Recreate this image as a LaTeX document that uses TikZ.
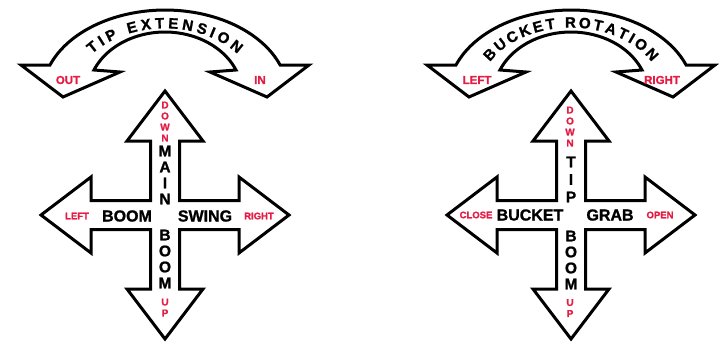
\documentclass[tikz,border=0pt]{standalone}
\usepackage{fontspec}
\setmainfont{Liberation Sans}[BoldFeatures={FakeBold=1.2}]
\definecolor{LabelRed}{RGB}{228,28,68}
\usetikzlibrary{positioning,decorations.text}
\tikzset{myoutline/.style={draw=black,fill=white,line width=3pt,line join=miter}}
\tikzset{mywords/.style={inner sep=0pt,font=\bfseries\fontsize{16}{16}\selectfont}}
\tikzset{mystack/.style={align=center,inner sep=0pt,font=\bfseries\fontsize{15.5}{16}\selectfont}}
\tikzset{myredstack/.style={align=center,inner sep=0pt,text=LabelRed,font=\bfseries\fontsize{10}{11}\selectfont}}
\tikzset{myredlabel/.style={inner sep=0pt,text=LabelRed,font=\bfseries\fontsize{9.5}{9.5}\selectfont}}
\tikzset{myarclabel/.style={myredlabel,font=\bfseries\fontsize{11.5}{11.5}\selectfont}}
\tikzset{myarctext/.style={decorate,decoration={text along path,text align=fit to path,
    text format delimiters={|}{|},text={|\bfseries\fontsize{15}{15}\selectfont|#1}}}}
\tikzset{mycross/.pic={
    \draw[myoutline] (0,-124) -- (38,-74) -- (14.5,-74) -- (14.5,-14.5) -- (74,-14.5) -- (74,-38)
      -- (124,0) -- (74,38) -- (74,14.5) -- (14.5,14.5) -- (14.5,74) -- (38,74)
      -- (0,124) -- (-38,74) -- (-14.5,74) -- (-14.5,14.5) -- (-74,14.5) -- (-74,38)
      -- (-124,0) -- (-74,-38) -- (-74,-14.5) -- (-14.5,-14.5) -- (-14.5,-74) -- (-38,-74) -- cycle;
}}
\tikzset{myarc/.pic={
    \draw[myoutline] (-115,65) arc[start angle=200.7,end angle=339.3,x radius=123,y radius=85]
      -- (144,65) -- (102,97) -- (45,72) -- (71,70)
      arc[start angle=336.6,end angle=203.4,x radius=77.4,y radius=63]
      -- (-45,72) -- (-102,97) -- (-144,65) -- cycle;
}}

\begin{document}
\begin{tikzpicture}[x=1pt,y=-1pt]
    \useasboundingbox (0,0) rectangle (719,348);
    % left controls
    \pic (tipArc) at (165,0) {myarc};
    \path[myarctext={TIP EXTENSION}] (92,54) arc[start angle=218.5,end angle=321.5,x radius=93,y radius=68];
    \node[myarclabel] (out) at (68,80) {OUT};
    \node[myarclabel] (in) at (260,80) {IN};
    \pic (mainCross) at (165,215) {mycross};
    \node[myredstack] (mainDown) at (165,121.5) {D\\O\\W\\N};
    \node[mystack] (main) at (165,175) {M\\A\\I\\N};
    \node[mystack] (mainBoom) at (165,259) {B\\O\\O\\M};
    \node[myredstack] (mainUp) at (165,307.5) {U\\P};
    \node[myredlabel] (swingLeft) at (77,216) {LEFT};
    \node[mywords] (boom) at (127,216) {BOOM};
    \node[mywords] (swing) at (205,216) {SWING};
    \node[myredlabel] (swingRight) at (259,216) {RIGHT};
    % right controls
    \pic (bucketArc) at (571,0) {myarc};
    \path[myarctext={BUCKET ROTATION}] (490,62) arc[start angle=209.6,end angle=330.4,x radius=93,y radius=68];
    \node[myarclabel] (rotLeft) at (477,80) {LEFT};
    \node[myarclabel] (rotRight) at (662,80) {RIGHT};
    \pic (tipCross) at (571,215) {mycross};
    \node[myredstack] (tipDown) at (570,126.5) {D\\O\\W\\N};
    \node[mystack,font=\bfseries\fontsize{15.5}{17.5}\selectfont] (tip) at (571,179.5) {T\\I\\P};
    \node[mystack] (tipBoom) at (571,260) {B\\O\\O\\M};
    \node[myredstack] (tipUp) at (570,308) {U\\P};
    \node[myredlabel] (close) at (476,215) {CLOSE};
    \node[mywords] (bucket) at (530,215) {BUCKET};
    \node[mywords] (grab) at (610,215) {GRAB};
    \node[myredlabel] (open) at (660,215) {OPEN};
\end{tikzpicture}
\end{document}
